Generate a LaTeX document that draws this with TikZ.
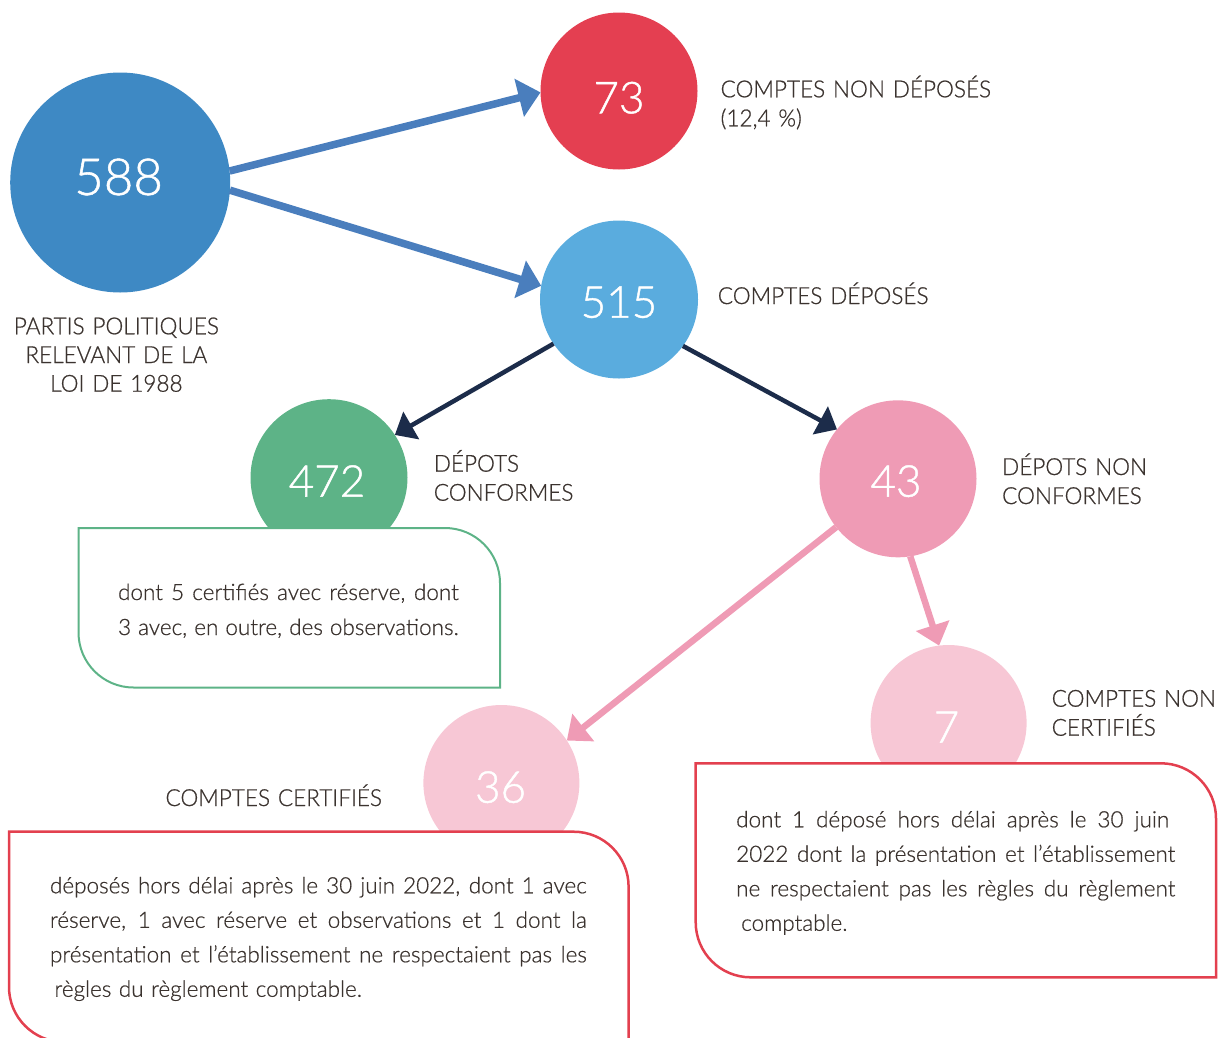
\documentclass[tikz,border=0pt]{standalone}
\usepackage{fontspec}
\setmainfont{Lato Light}
\newfontfamily\capfont{Lato Light}[FakeStretch=0.96,FakeBold=0.7]
\newfontfamily\bodyfont{Lato Light}[FakeBold=0.6]
\newfontfamily\numfont{Lato Light}[FakeBold=1]
\usetikzlibrary{arrows.meta,calc}

\definecolor{ink}{HTML}{3B332F}
\definecolor{blueA}{HTML}{3E89C4}
\definecolor{redA}{HTML}{E43F51}
\definecolor{blueB}{HTML}{5AACDE}
\definecolor{greenA}{HTML}{5DB387}
\definecolor{pinkA}{HTML}{EF9BB5}
\definecolor{pinkB}{HTML}{F7C7D5}
\definecolor{arrowblue}{HTML}{4A7EBD}
\definecolor{navy}{HTML}{1C2C4A}
\definecolor{redline}{HTML}{E3404F}

% outline of a note card: square top-left and bottom-right corners,
% rounded top-right and bottom-left corners
\newcommand\cardoutline[3]{%
  \draw[#2] (#1.north west) -- ($(#1.north east)+(-#3,0)$)
    .. controls ($(#1.north east)+(-0.448*#3,0)$) and ($(#1.north east)+(0,0.448*#3)$) .. ($(#1.north east)+(0,#3)$)
    -- (#1.south east) -- ($(#1.south west)+(#3,0)$)
    .. controls ($(#1.south west)+(0.448*#3,0)$) and ($(#1.south west)+(0,-0.448*#3)$) .. ($(#1.south west)+(0,-#3)$)
    -- cycle;}
% a justified line: its word spaces stretch to the given width
\newcommand\spreadline[2]{\makebox[#1][s]{\spaceskip=\fontdimen2\font plus 1fil\relax#2}}

\begin{document}
\begin{tikzpicture}[x=1pt,y=-1pt,
  bubble/.style={circle,inner sep=0pt,outer sep=0pt,draw=none,minimum size=#1},
  numtxt/.style={text=white,anchor=base,inner sep=0pt,font=\numfont\fontsize{44}{44}\selectfont},
  caption/.style={text=ink,anchor=base west,inner sep=0pt,align=left,text width=#1,
    font=\capfont\fontsize{23.5}{29}\selectfont},
  bodytxt/.style={text=ink,anchor=base west,inner sep=0pt,align=left,text width=#1,
    font=\bodyfont\fontsize{22.5}{35}\selectfont},
  cardframe/.style={rectangle,inner sep=0pt,outer sep=0pt,draw=none},
  bluearrow/.style={draw=arrowblue,line width=7.5pt,-{Triangle[length=22pt,width=38pt]}},
  darkarrow/.style={draw=navy,line width=4.5pt,-{Triangle[length=19pt,width=31pt]}},
  pinkarrow/.style={draw=pinkA,line width=6.5pt,-{Triangle[length=21pt,width=34pt]}},
  greencard/.style={draw=greenA,line width=2pt,fill=white},
  redcard/.style={draw=redline,line width=2.5pt,fill=white},
]
\useasboundingbox (0,0) rectangle (1219,1037);
\clip (0,0) rectangle (1219,1037);

% circles
\node[bubble=220pt,fill=blueA]  (n588) at (120.2,182.5) {};
\node[bubble=157pt,fill=redA]   (n73)  at (619,91) {};
\node[bubble=158pt,fill=blueB]  (n515) at (619,299.5) {};
\node[bubble=157pt,fill=greenA] (n472) at (329,477.7) {};
\node[bubble=157pt,fill=pinkA]  (n43)  at (898,478.8) {};
\node[bubble=156pt,fill=pinkB]  (n7)   at (948.6,723) {};
\node[bubble=156pt,fill=pinkB]  (n36)  at (501.4,783) {};

% connectors
\draw[bluearrow] (n588.6) -- (n73.181);
\draw[bluearrow] (n588.-4) -- (n515.170);
\draw[darkarrow] (n515.214) -- (n472.33);
\draw[darkarrow] (n515.-36) -- (n43.141);
\draw[pinkarrow] (n43.218) -- (n36.33);
\draw[pinkarrow] (n43.-81) -- (n7.97);

% note cards
\node[cardframe,minimum width=421.5pt,minimum height=159.5pt] (gcard) at (289.25,607.75) {};
\node[cardframe,minimum width=619.6pt,minimum height=210.3pt] (lcard) at (318.8,936.85) {};
\node[cardframe,minimum width=520.3pt,minimum height=214pt]   (rcard) at (955.85,870.3) {};
\cardoutline{gcard}{greencard}{55}
\cardoutline{lcard}{redcard}{55}
\cardoutline{rcard}{redcard}{55}

% numbers
\node[numtxt,font=\numfont\fontsize{51}{51}\selectfont] (t588) at (118.6,195) {588};
\node[numtxt] (t73)  at (619,113.3) {73};
\node[numtxt] (t515) at (619,317.7) {515};
\node[numtxt] (t472) at (327,496.7) {472};
\node[numtxt] (t43)  at (896,496.7) {43};
\node[numtxt] (t7)   at (946.5,742.7) {7};
\node[numtxt] (t36)  at (500.6,802.7) {36};

% captions
\node[caption=240pt,align=center,anchor=base,font=\capfont\fontsize{23.5}{28.7}\selectfont] (l588) at (116.4,334.3)
  {PARTIS POLITIQUES\\RELEVANT DE LA\\LOI DE 1988};
\node[caption=300pt] (l73)  at (720.4,97.3) {COMPTES NON DÉPOSÉS\\(12,4 \%)};
\node[caption=300pt] (l515) at (717.6,304) {COMPTES DÉPOSÉS};
\node[caption=200pt] (l472) at (433.6,471.7) {DÉPOTS\\CONFORMES};
\node[caption=200pt] (l43)  at (1001.9,475) {DÉPOTS NON\\CONFORMES};
\node[caption=200pt] (l7)   at (1051.5,706.7) {COMPTES NON\\CERTIFIÉS};
\node[caption=260pt] (l36)  at (165.3,806) {COMPTES CERTIFIÉS};

% card texts
\node[bodytxt=360pt] (g472) at (117.9,600) {%
  \spreadline{340.6pt}{dont 5 certifiés avec réserve, dont}\\
  \spreadline{340.6pt}{3 avec, en outre, des observations.}};
\node[bodytxt=560pt,font=\bodyfont\fontsize{22.5}{34.5}\selectfont] (g36) at (49.8,893.3) {%
  \spreadline{536.7pt}{déposés hors délai après le 30 juin 2022, dont 1 avec}\\
  \spreadline{536.7pt}{réserve, 1 avec réserve et observations et 1 dont la}\\
  \spreadline{536.7pt}{présentation et l’établissement ne respectaient pas les}\\
  \hspace*{4.5pt}règles du règlement comptable.};
\node[bodytxt=460pt,font=\bodyfont\fontsize{22.5}{34.5}\selectfont] (g7) at (736,827.3) {%
  \spreadline{433pt}{dont 1 déposé hors délai après le 30 juin}\\
  \spreadline{439pt}{2022 dont la présentation et l’établissement}\\
  \spreadline{439pt}{ne respectaient pas les règles du règlement}\\
  \hspace*{5pt}comptable.};
\end{tikzpicture}
\end{document}
